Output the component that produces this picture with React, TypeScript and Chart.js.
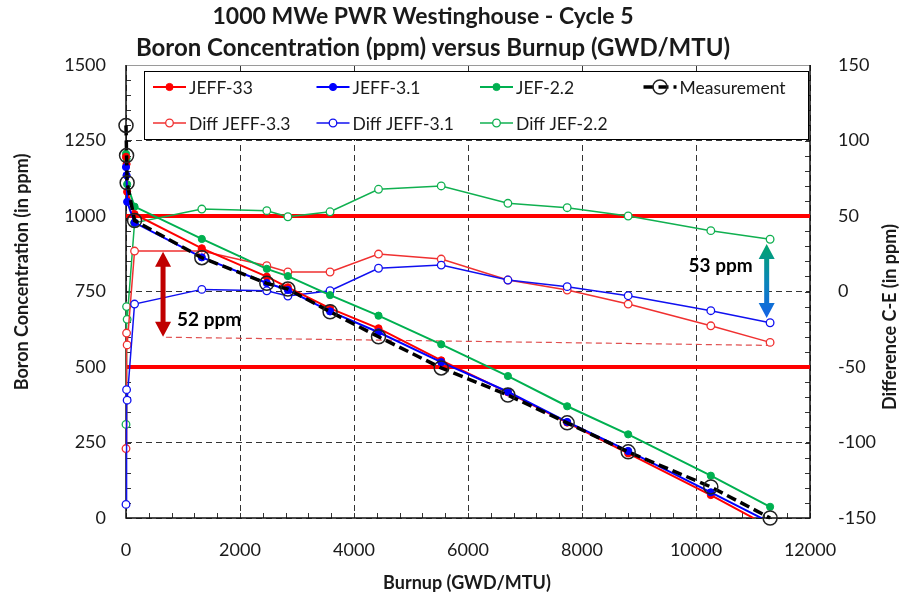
import React, { useEffect, useRef } from "react";
import { Chart, registerables } from "chart.js";

Chart.register(...registerables);

// Burnup steps of cycle 5 (GWD/MTU)
const burnup = [0, 10, 20, 150, 1330, 2470, 2840, 3580, 4430, 5530, 6700, 7740, 8810, 10260, 11300];

// Critical boron concentration (ppm)
const measured = [1300, 1200, 1110, 985, 862, 777, 758, 683, 600, 497, 407, 315, 219, 103, 0];
const jeff33 = [1196, 1172, 1080, 1006, 893, 799, 764, 694, 628, 522, 416, 316, 214, 76, -30];
const jeff31 = [1162, 1135, 1047, 978, 863, 778, 755, 684, 615, 516, 418, 318, 222, 85, -15];
const jef22 = [1206, 1190, 1105, 1031, 924, 825, 801, 738, 670, 575, 470, 370, 277, 140, 37];

// Calculation minus experiment (ppm)
const diffJeff33 = [-104, -27.5, -35.4, 26.8, 26.8, 17.1, 12.9, 12.9, 24.8, 21.5, 7.6, 1.0, -8.3, -22.7, -33.7];
const diffJeff31 = [-141, -65, -72, -8.3, 1.4, 0.5, -3.0, 0.5, 15.4, 17.5, 7.6, 3.2, -2.8, -12.7, -20.7];
const diffJef22 = [-88, -10, -18.4, 45.5, 54.6, 53.5, 49.5, 52.8, 67.7, 69.9, 58.4, 55.5, 50, 40.3, 34.6];

// Tolerance band on the difference (ppm)
const diffLimits = [50, -50];
// Lower reference of the JEFF-3.3 spread
const spreadBurnup = [700, 11300];
const spreadDiff = [-30.3, -35.7];

// Spread annotations: [burnup, top diff, bottom diff]
const spreadJeff33 = [650, 26.3, -29.9];
const spreadEnd = [11240, 31.4, -17.6];
const spreadLabels = ["52 ppm", "53 ppm"];

const xTicks = { min: 0, max: 12000, step: 2000, minor: 400 };
const yTicks = { min: 0, max: 1500, step: 250, minor: 50 };
const y2Ticks = { min: -150, max: 150, step: 50, minor: 10 };

const titleLines = ["1000 MWe PWR Westinghouse - Cycle 5", "Boron Concentration (ppm) versus Burnup (GWD/MTU)"];
const xTitle = "Burnup (GWD/MTU)";
const yTitle = "Boron Concentration (in ppm)";
const y2Title = "Difference C-E (in ppm)";

const FONT = "Lato, 'Open Sans', sans-serif";
const INK = "#1a1a1a";

const RED = "#ff0000";
const BLUE = "#0000ff";
const GREEN = "#00b050";

const legendRows = [
  ["JEFF-33", "JEFF-3.1", "JEF-2.2", "Measurement"],
  ["Diff JEFF-3.3", "Diff JEFF-3.1", "Diff JEF-2.2"],
];

const plainNumber = (v: number | string) => String(v);

function drawArrow(ctx: CanvasRenderingContext2D, x: number, yTop: number, yBot: number, fill: string | CanvasGradient) {
  const headL = 15;
  const headW = 8;
  const shaft = 2.5;
  ctx.save();
  ctx.fillStyle = fill;
  ctx.beginPath();
  ctx.moveTo(x, yTop);
  ctx.lineTo(x + headW, yTop + headL);
  ctx.lineTo(x + shaft, yTop + headL);
  ctx.lineTo(x + shaft, yBot - headL);
  ctx.lineTo(x + headW, yBot - headL);
  ctx.lineTo(x, yBot);
  ctx.lineTo(x - headW, yBot - headL);
  ctx.lineTo(x - shaft, yBot - headL);
  ctx.lineTo(x - shaft, yTop + headL);
  ctx.lineTo(x - headW, yTop + headL);
  ctx.closePath();
  ctx.fill();
  ctx.restore();
}

const decorPlugin = {
  id: "decor",
  beforeDatasetsDraw(chart: any) {
    const { ctx, chartArea: a, scales } = chart;
    ctx.save();
    ctx.strokeStyle = "#333";
    ctx.lineWidth = 1;
    ctx.beginPath();
    for (let v = xTicks.min; v <= xTicks.max; v += xTicks.minor) {
      const px = Math.round(scales.x.getPixelForValue(v)) + 0.5;
      ctx.moveTo(px, a.bottom);
      ctx.lineTo(px, a.bottom - 5);
    }
    for (let v = yTicks.min; v <= yTicks.max; v += yTicks.minor) {
      const py = Math.round(scales.y.getPixelForValue(v)) + 0.5;
      ctx.moveTo(a.left, py);
      ctx.lineTo(a.left + 5, py);
    }
    for (let v = y2Ticks.min; v <= y2Ticks.max; v += y2Ticks.minor) {
      const py = Math.round(scales.y2.getPixelForValue(v)) + 0.5;
      ctx.moveTo(a.right, py);
      ctx.lineTo(a.right - 5, py);
    }
    ctx.stroke();
    ctx.strokeStyle = "#9a9a9a";
    ctx.beginPath();
    ctx.moveTo(a.left, a.top + 0.5);
    ctx.lineTo(a.right, a.top + 0.5);
    ctx.stroke();
    ctx.strokeStyle = "#111";
    ctx.lineWidth = 1.5;
    ctx.beginPath();
    ctx.moveTo(a.left, a.top);
    ctx.lineTo(a.left, a.bottom);
    ctx.lineTo(a.right, a.bottom);
    ctx.lineTo(a.right, a.top);
    ctx.stroke();
    ctx.restore();
  },
  afterDatasetsDraw(chart: any) {
    const { ctx, scales } = chart;
    const x = scales.x;
    const y2 = scales.y2;
    // JEFF-3.3 spread arrow
    const ax = x.getPixelForValue(spreadJeff33[0]);
    const at = y2.getPixelForValue(spreadJeff33[1]);
    const ab = y2.getPixelForValue(spreadJeff33[2]);
    drawArrow(ctx, ax, at, ab, "#c00000");
    // JEF-2.2 / JEFF-3.1 spread at end of cycle
    const bx = x.getPixelForValue(spreadEnd[0]);
    const bt = y2.getPixelForValue(spreadEnd[1]);
    const bb = y2.getPixelForValue(spreadEnd[2]);
    const g = ctx.createLinearGradient(0, bt, 0, bb);
    g.addColorStop(0, "#00a46c");
    g.addColorStop(0.5, "#0a86b8");
    g.addColorStop(1, "#1463e6");
    drawArrow(ctx, bx, bt, bb, g);

    ctx.save();
    ctx.fillStyle = "#000";
    ctx.font = `bold 19px ${FONT}`;
    ctx.textBaseline = "middle";
    ctx.textAlign = "left";
    ctx.fillText(spreadLabels[0], ax + 14, y2.getPixelForValue(-19));
    ctx.textAlign = "right";
    ctx.fillText(spreadLabels[1], bx - 14, y2.getPixelForValue(17));
    ctx.restore();
  },
  afterDraw(chart: any) {
    const { ctx, chartArea: a } = chart;
    ctx.save();
    ctx.fillStyle = INK;
    ctx.textAlign = "center";
    ctx.textBaseline = "middle";
    ctx.font = `bold 23px ${FONT}`;
    ctx.fillText(titleLines[0], 423, 17);
    ctx.font = `bold 24px ${FONT}`;
    ctx.fillText(titleLines[1], 433, 48);

    ctx.font = `bold 18px ${FONT}`;
    ctx.fillText(xTitle, 467, 583);
    ctx.save();
    ctx.translate(22, 272);
    ctx.rotate(-Math.PI / 2);
    ctx.fillText(yTitle, 0, 0);
    ctx.restore();
    ctx.save();
    ctx.translate(890, 317);
    ctx.rotate(-Math.PI / 2);
    ctx.fillText(y2Title, 0, 0);
    ctx.restore();

    // legend inside the plot
    const bx = a.left + 18;
    const by = a.top + 6;
    const bw = a.right - 2 - bx;
    const bh = 68;
    ctx.fillStyle = "#fff";
    ctx.fillRect(bx, by, bw, bh);
    ctx.strokeStyle = "#000";
    ctx.lineWidth = 1;
    ctx.strokeRect(bx + 0.5, by + 0.5, bw, bh);

    const colStep = 163.5;
    const sampleLen = 33;
    const datasets = chart.data.datasets;
    legendRows.forEach((row, r) => {
      const cy = by + 16 + r * 36;
      row.forEach((label, c) => {
        const ds = datasets.find((d: any) => d.label === label);
        if (!ds) return;
        const sx = bx + 9 + c * colStep;
        ctx.save();
        ctx.strokeStyle = ds.borderColor;
        ctx.lineWidth = ds.borderWidth;
        ctx.setLineDash(ds.borderDash || []);
        ctx.beginPath();
        ctx.moveTo(sx, cy);
        ctx.lineTo(sx + sampleLen, cy);
        ctx.stroke();
        ctx.setLineDash([]);
        ctx.beginPath();
        ctx.arc(sx + sampleLen / 2, cy, ds.pointRadius, 0, Math.PI * 2);
        ctx.fillStyle = ds.pointBackgroundColor;
        ctx.fill();
        ctx.lineWidth = ds.pointBorderWidth;
        ctx.strokeStyle = ds.pointBorderColor;
        ctx.stroke();
        ctx.restore();
        ctx.fillStyle = INK;
        ctx.textAlign = "left";
        ctx.font = `17.5px ${FONT}`;
        ctx.fillText(label, sx + sampleLen + 3, cy + 1);
      });
    });
    ctx.restore();
  },
};

export default function App() {
  const ref = useRef<HTMLCanvasElement>(null);

  useEffect(() => {
    const canvas = ref.current;
    if (!canvas) return;
    const pts = (ys: number[]) => ys.map((y, i) => ({ x: burnup[i], y }));
    const calc = (label: string, data: number[], color: string, order: number) => ({
      label,
      data: pts(data),
      yAxisID: "y",
      borderColor: color,
      backgroundColor: color,
      borderWidth: 2,
      pointRadius: 3.6,
      pointBackgroundColor: color,
      pointBorderColor: color,
      pointBorderWidth: 1,
      order,
      clip: { left: false, top: false, right: false, bottom: 0 },
    });
    const diff = (label: string, data: number[], color: string, order: number) => ({
      label,
      data: pts(data),
      yAxisID: "y2",
      borderColor: color,
      backgroundColor: "#fff",
      borderWidth: 1.5,
      pointRadius: 3.8,
      pointBackgroundColor: "#fff",
      pointBorderColor: color,
      pointBorderWidth: 1.3,
      order,
      clip: false,
    });
    const limit = (v: number) => ({
      label: `limit ${v}`,
      data: [
        { x: xTicks.min, y: v },
        { x: xTicks.max, y: v },
      ],
      yAxisID: "y2",
      borderColor: RED,
      borderWidth: 4,
      pointRadius: 0,
      order: 20,
      clip: false,
    });

    const chart = new Chart(canvas, {
      type: "line",
      data: {
        datasets: [
          calc("JEFF-33", jeff33, RED, 2),
          calc("JEFF-3.1", jeff31, BLUE, 1),
          calc("JEF-2.2", jef22, GREEN, 3),
          {
            label: "Measurement",
            data: pts(measured),
            yAxisID: "y",
            borderColor: "#000",
            backgroundColor: "rgba(0,0,0,0)",
            borderWidth: 3.5,
            borderDash: [10, 5],
            pointRadius: 7,
            pointBackgroundColor: "rgba(0,0,0,0)",
            pointBorderColor: "#222",
            pointBorderWidth: 1.5,
            order: 0,
            clip: false,
          },
          diff("Diff JEFF-3.3", diffJeff33, "#f03030", 5),
          diff("Diff JEFF-3.1", diffJeff31, "#1010f0", 4),
          diff("Diff JEF-2.2", diffJef22, "#10b050", 6),
          {
            label: "spread",
            data: spreadBurnup.map((b, i) => ({ x: b, y: spreadDiff[i] })),
            yAxisID: "y2",
            borderColor: "#e05050",
            borderWidth: 1.2,
            borderDash: [6, 4],
            pointRadius: 0,
            order: 10,
            clip: false,
          },
          ...diffLimits.map(limit),
        ] as any,
      },
      options: {
        animation: false,
        responsive: false,
        devicePixelRatio: 1,
        layout: { padding: { top: 65, left: 0, right: 0, bottom: 0 } },
        elements: { line: { tension: 0 } },
        plugins: {
          legend: { display: false },
          tooltip: { enabled: false },
          title: { display: false },
        },
        scales: {
          x: {
            type: "linear",
            min: xTicks.min,
            max: xTicks.max,
            afterFit(s: any) {
              s.height = 88;
            },
            ticks: { stepSize: xTicks.step, padding: 21, color: INK, maxRotation: 0, font: { family: FONT, size: 18 }, callback: plainNumber },
            grid: { color: "#333", lineWidth: 1, drawTicks: false },
            border: { display: false, dash: [6, 4] },
          },
          y: {
            type: "linear",
            position: "left",
            min: yTicks.min,
            max: yTicks.max,
            afterFit(s: any) {
              s.width = 126;
            },
            ticks: { stepSize: yTicks.step, padding: 20, color: INK, font: { family: FONT, size: 18 }, callback: plainNumber },
            grid: { color: "#333", lineWidth: 1, drawTicks: false },
            border: { display: false, dash: [6, 4] },
          },
          y2: {
            type: "linear",
            position: "right",
            min: y2Ticks.min,
            max: y2Ticks.max,
            afterFit(s: any) {
              s.width = 92;
            },
            ticks: { stepSize: y2Ticks.step, padding: 28, color: INK, font: { family: FONT, size: 18 }, callback: plainNumber },
            grid: { display: false, drawTicks: false },
            border: { display: false },
          },
        },
      } as any,
      plugins: [decorPlugin],
    });
    return () => chart.destroy();
  }, []);

  return (
    <div style={{ position: "fixed", left: 0, top: 0, width: 902, height: 606, background: "#fff" }}>
      <canvas ref={ref} width={902} height={606} style={{ display: "block", width: 902, height: 606 }} />
    </div>
  );
}
